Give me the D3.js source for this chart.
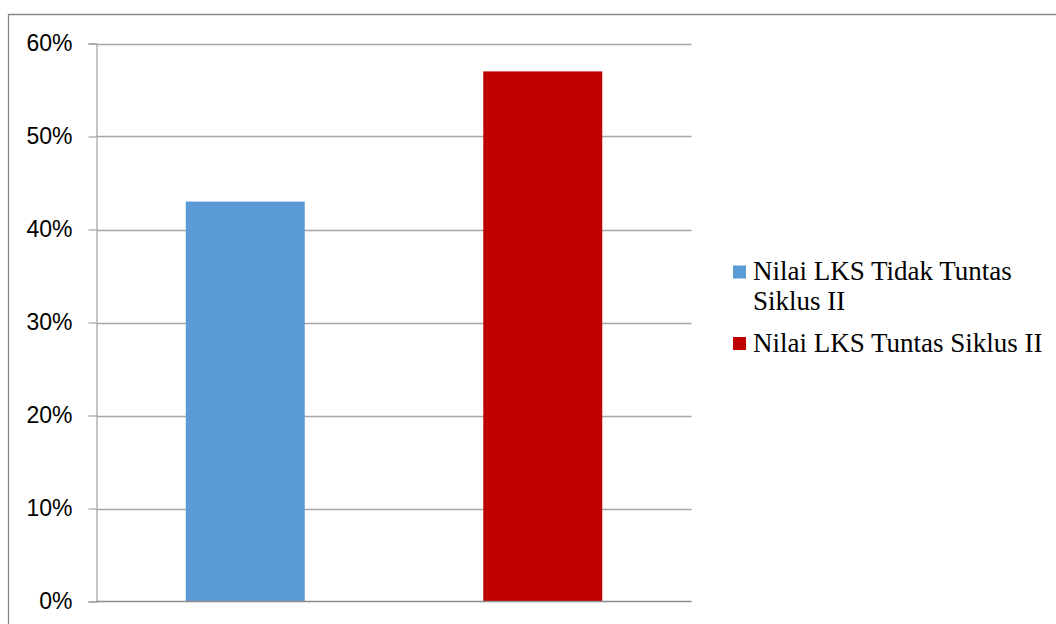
<!DOCTYPE html>
<html>
<head>
<meta charset="utf-8">
<script src="https://cdn.jsdelivr.net/npm/d3@7"></script>
<style>
html,body{margin:0;padding:0;background:#fff;}
svg{display:block;}
</style>
</head>
<body>
<svg id="chart" width="1056" height="624"></svg>
<script>
const categories = ["Nilai LKS Tidak Tuntas Siklus II", "Nilai LKS Tuntas Siklus II"];
const values = [43, 57];
const colors = ["#5B9BD5", "#C00000"];
const yTicks = [0, 10, 20, 30, 40, 50, 60];
const legendLines = [["Nilai LKS Tidak Tuntas", "Siklus II"], ["Nilai LKS Tuntas Siklus II"]];

const svg = d3.select("#chart");
const W = 1056, H = 624;
const plot = {left: 96.5, right: 691.5, top: 43.5, bottom: 601.5};

// outer frame
svg.append("path")
  .attr("d", `M8.5,${H+5} L8.5,14.5 L${W+5},14.5`)
  .attr("fill", "none").attr("stroke", "#888").attr("stroke-width", 1.3);

const x = d3.scaleBand().domain(categories).range([plot.left, plot.right])
  .paddingInner(0.6).paddingOuter(0.3);
const y = d3.scaleLinear().domain([0, 60]).range([plot.bottom, plot.top]);

// gridlines
svg.append("g").selectAll("line").data(yTicks.filter(d => d > 0)).join("line")
  .attr("x1", plot.left).attr("x2", plot.right)
  .attr("y1", d => Math.round(y(d)) + 0.5).attr("y2", d => Math.round(y(d)) + 0.5)
  .attr("stroke", "#a6a6a6").attr("stroke-width", 1.3);

// y axis
const yAxis = d3.axisLeft(y).tickValues(yTicks).tickFormat(d => d + "%").tickSize(8).tickPadding(16);
const gy = svg.append("g").attr("transform", `translate(${plot.left},0)`).call(yAxis);
gy.select(".domain").attr("stroke", "#a6a6a6").attr("stroke-width", 1.3);
gy.selectAll(".tick line").attr("stroke", "#a6a6a6").attr("stroke-width", 1.3);
gy.selectAll(".tick text").attr("font-family", "'Liberation Sans', Arial, sans-serif")
  .attr("font-size", 23).attr("fill", "#000");

// bars
svg.append("g").selectAll("rect").data(values).join("rect")
  .attr("x", (d, i) => x(categories[i]))
  .attr("width", x.bandwidth())
  .attr("y", d => y(d))
  .attr("height", d => y(0) - y(d))
  .attr("fill", (d, i) => colors[i]);

// x baseline
svg.append("line").attr("x1", plot.left).attr("x2", plot.right)
  .attr("y1", plot.bottom).attr("y2", plot.bottom)
  .attr("stroke", "#8c8c8c").attr("stroke-width", 1.5);

// legend
const legendY = [280, 351.5];
const lg = svg.append("g");
legendLines.forEach((lines, i) => {
  lg.append("rect").attr("x", 733).attr("y", legendY[i] - 14.5).attr("width", 13).attr("height", 13)
    .attr("fill", colors[i]);
  const t = lg.append("text")
    .attr("transform", `translate(753,${legendY[i]})`)
    .attr("font-family", "'Liberation Serif', 'Times New Roman', serif")
    .attr("font-size", 27).attr("fill", "#000");
  lines.forEach((l, j) => {
    t.append("tspan").attr("x", 0).attr("y", j * 30).text(l);
  });
});
</script>
</body>
</html>
